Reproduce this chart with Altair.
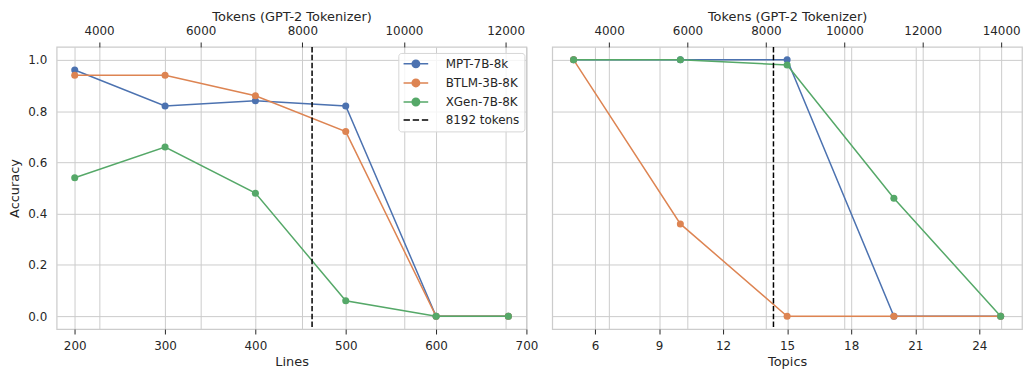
import json
import altair as alt
import pandas as pd

# ---------------- data ----------------
series = ["MPT-7B-8k", "BTLM-3B-8K", "XGen-7B-8K"]
colors = ["#4C72B0", "#DD8452", "#55A868"]
rule_label = "8192 tokens"
rule_tokens = [8192]

lines_x = [200, 300, 400, 500, 600, 680]
lines_mpt = [0.96, 0.82, 0.84, 0.82, 0.0, 0.0]
lines_btlm = [0.94, 0.94, 0.86, 0.72, 0.0, 0.0]
lines_xgen = [0.54, 0.66, 0.48, 0.06, 0.0, 0.0]

topics_x = [5, 10, 15, 20, 25]
topics_mpt = [1.0, 1.0, 1.0, 0.0, 0.0]
topics_btlm = [1.0, 0.36, 0.0, 0.0, 0.0]
topics_xgen = [1.0, 1.0, 0.98, 0.46, 0.0]

y_ticks = [0.0, 0.2, 0.4, 0.6, 0.8, 1.0]
lines_ticks = [200, 300, 400, 500, 600, 700]
topics_ticks = [6, 9, 12, 15, 18, 21, 24]
tokens_ticks_left = [4000, 6000, 8000, 10000, 12000]
tokens_ticks_right = [4000, 6000, 8000, 10000, 12000, 14000]

# axis limits (matplotlib-style margins)
y_domain = [-0.05, 1.05]
lines_domain = [180, 700]
topics_domain = [4, 26]
tokens_domain_left = [3166, 12410]
tokens_domain_right = [2549, 14532]


def long_df(xs, ys_list):
    rows = []
    for s, ys in zip(series, ys_list):
        for x, y in zip(xs, ys):
            rows.append({"series": s, "x": x, "acc": y})
    return pd.DataFrame(rows)


df_lines = long_df(lines_x, [lines_mpt, lines_btlm, lines_xgen])
df_topics = long_df(topics_x, [topics_mpt, topics_btlm, topics_xgen])

TEXT = "#262626"
GRID = "#cccccc"
FONT = "DejaVu Sans"

legend_domain = series + [rule_label]
legend_colors = colors + ["black"]

line_marker_path = "M-12.4,0L12.4,0M3.75,0A3.75,3.75,0,1,1,-3.75,0A3.75,3.75,0,1,1,3.75,0Z"
dash_path = "M-12.4,0L-6,0M-3.2,0L3.2,0M6,0L12.4,0"
stroke_expr = f"{json.dumps(legend_colors)}[indexof({json.dumps(legend_domain)}, datum.value)]"
shape_expr = f"datum.value === '{rule_label}' ? '{dash_path}' : '{line_marker_path}'"


def panel(df, xdomain, xticks, xtitle, tokdomain, tokticks, show_y, with_legend):
    x_enc = alt.X(
        "x:Q",
        scale=alt.Scale(domain=xdomain, nice=False, zero=False),
        axis=alt.Axis(
            orient="bottom", values=xticks, format="d", title=xtitle,
            grid=True, gridColor=GRID, gridWidth=1, domain=False,
            ticks=True, tickSize=5, tickColor=TEXT, tickWidth=1,
            labelPadding=6.5, labelFontSize=12, labelColor=TEXT, labelFont=FONT,
            labelFlush=False,
            titleFontSize=13, titleColor=TEXT, titleFont=FONT, titleFontWeight="normal",
            titlePadding=4.5,
        ),
    )
    if show_y:
        y_axis = alt.Axis(
            values=y_ticks, format=".1f", title="Accuracy", grid=True, gridColor=GRID,
            gridWidth=1, domain=False, ticks=False, labelPadding=10, labelFontSize=12,
            labelColor=TEXT, labelFont=FONT, labelFlush=False, titleFontSize=13,
            titleColor=TEXT, titleFont=FONT, titleFontWeight="normal", titlePadding=6,
        )
    else:
        y_axis = alt.Axis(
            values=y_ticks, labels=False, title=None, grid=True, gridColor=GRID,
            gridWidth=1, domain=False, ticks=False,
        )
    y_enc = alt.Y("acc:Q", scale=alt.Scale(domain=y_domain, nice=False, zero=False), axis=y_axis)
    color_scale = alt.Scale(domain=legend_domain, range=legend_colors)
    color_nolegend = alt.Color("series:N", scale=color_scale, legend=None)

    layers = []
    if with_legend:
        legend = alt.Legend(
            title=None, orient="none", legendX=344, legendY=6, direction="vertical",
            padding=5, rowPadding=5.2, cornerRadius=3,
            fillColor="rgba(255,255,255,0.8)", strokeColor="#d6d6d6",
            labelFontSize=12, labelFont=FONT, labelColor=TEXT, labelLimit=300,
            symbolSize=4, symbolOffset=6.7, labelOffset=24, symbolOpacity=1,
            symbolStrokeWidth=1.5,
            symbolType=alt.ExprRef(expr=shape_expr),
            symbolStrokeColor=alt.ExprRef(expr=stroke_expr),
        )
        layers.append(
            alt.Chart(df).mark_point(filled=True, size=0, opacity=1, strokeWidth=1.5).encode(
                x=x_enc, y=y_enc,
                color=alt.Color("series:N", scale=color_scale, legend=legend),
            )
        )
    for s in series:
        d = df[df["series"] == s]
        layers.append(
            alt.Chart(d).mark_line(strokeWidth=1.5).encode(x=x_enc, y=y_enc, color=color_nolegend)
        )
        layers.append(
            alt.Chart(d).mark_circle(size=50, opacity=1).encode(x=x_enc, y=y_enc, color=color_nolegend)
        )
    inner = alt.layer(*layers)

    rule = alt.Chart(pd.DataFrame({"tok": rule_tokens})).mark_rule(
        color="black", strokeDash=[5.5, 2.4], strokeWidth=1.5
    ).encode(
        x=alt.X(
            "tok:Q",
            scale=alt.Scale(domain=tokdomain, nice=False, zero=False),
            axis=alt.Axis(
                orient="top", values=tokticks, format="d", title="Tokens (GPT-2 Tokenizer)",
                grid=True, gridColor=GRID, gridWidth=1, domain=False,
                ticks=True, tickSize=5, tickColor=TEXT, tickWidth=1,
                labelPadding=4.5, labelFontSize=12, labelColor=TEXT, labelFont=FONT,
                labelFlush=False,
                titleFontSize=13, titleColor=TEXT, titleFont=FONT, titleFontWeight="normal",
                titlePadding=1,
            ),
        )
    )
    return alt.layer(inner, rule).resolve_scale(x="independent").properties(width=473, height=284)


left = panel(df_lines, lines_domain, lines_ticks, "Lines", tokens_domain_left,
             tokens_ticks_left, True, True)
right = panel(df_topics, topics_domain, topics_ticks, "Topics", tokens_domain_right,
              tokens_ticks_right, False, False)

chart = (
    alt.hconcat(left, right, spacing=26, bounds="flush")
    .resolve_scale(color="independent", x="independent", y="independent")
    .properties(padding=0)
    .configure(font=FONT)
    .configure_view(stroke=GRID, strokeWidth=1.25)
)

chart.save("out.html", embed_options={"renderer": "svg", "actions": False})
